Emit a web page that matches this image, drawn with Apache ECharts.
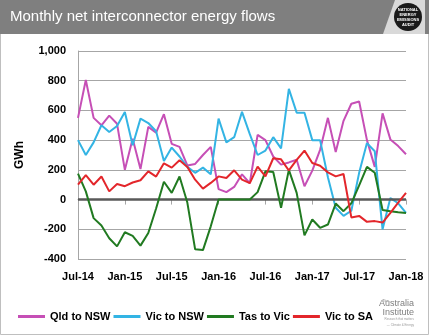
<!DOCTYPE html>
<html>
<head>
<meta charset="utf-8">
<script src="https://cdn.jsdelivr.net/npm/echarts@6/dist/echarts.min.js"></script>
<style>
html,body{margin:0;padding:0;background:#fff;}
#c{width:429px;height:335px;}
</style>
</head>
<body>
<div id="c"></div>
<script>
const categories = ['Jul-14','Aug-14','Sep-14','Oct-14','Nov-14','Dec-14',
  'Jan-15','Feb-15','Mar-15','Apr-15','May-15','Jun-15','Jul-15','Aug-15','Sep-15','Oct-15','Nov-15','Dec-15',
  'Jan-16','Feb-16','Mar-16','Apr-16','May-16','Jun-16','Jul-16','Aug-16','Sep-16','Oct-16','Nov-16','Dec-16',
  'Jan-17','Feb-17','Mar-17','Apr-17','May-17','Jun-17','Jul-17','Aug-17','Sep-17','Oct-17','Nov-17','Dec-17',
  'Jan-18'];

const qldToNsw = [550,805,550,500,565,510,200,410,205,489,450,575,375,355,230,240,300,355,70,50,
  85,170,110,435,400,290,235,250,268,90,195,335,550,320,530,645,660,400,220,580,405,360,305];
const vicToNsw = [400,300,385,500,455,495,590,365,545,515,460,260,350,290,220,180,215,170,545,385,
  420,590,440,300,330,420,345,745,585,585,400,400,150,-55,-110,-75,180,380,325,-200,10,-25,-90];
const tasToVic = [175,55,-125,-175,-260,-315,-220,-245,-310,-225,-60,120,45,155,-20,-335,-340,-180,0,0,
  0,0,0,50,190,185,-55,200,45,-241,-134,-190,-168,-27,-78,-25,95,220,180,-70,-78,-85,-90];
const vicToSa = [100,165,100,155,55,105,90,115,130,190,155,244,215,265,220,134,74,112,156,145,
  197,134,111,222,156,278,271,196,267,330,246,228,183,156,172,-120,-110,-150,-145,-155,-90,-20,45];

const seriesNames = ['Qld to NSW','Vic to NSW','Tas to Vic','Vic to SA'];
const seriesColors = ['#C64FB6','#33B4E4','#217A21','#E3262B'];
const yTicks = {min:-400, max:1000, interval:200};

const font = 'Liberation Sans, Arial, sans-serif';
const chart = echarts.init(document.getElementById('c'), null, {renderer:'canvas'});

const dataSets = [qldToNsw, vicToNsw, tasToVic, vicToSa];
const series = dataSets.map((d,i)=>({
  name: seriesNames[i],
  type:'line',
  data:d,
  symbol:'none',
  z: 3 + i,
  lineStyle:{width:2, color:seriesColors[i]},
  itemStyle:{color:seriesColors[i]}
}));
series.push({
  type:'line', data:[], z:2, silent:true,
  markLine:{silent:true, symbol:'none', label:{show:false},
    lineStyle:{color:'#595959', width:2.5, type:'solid'},
    data:[{yAxis:0}]}
});

chart.setOption({
  animation:false,
  backgroundColor:'#fff',
  grid:{left:78, right:23, top:51, bottom:76, containLabel:false},
  xAxis:{
    type:'category', data:categories, boundaryGap:false,
    axisLine:{show:true, lineStyle:{color:'#a6a6a6', width:1}},
    axisTick:{show:true, interval:5, length:5, lineStyle:{color:'#a6a6a6'}},
    axisLabel:{interval:5, margin:12, color:'#000', fontWeight:'bold', fontSize:11, fontFamily:font},
    splitLine:{show:false}
  },
  yAxis:{
    type:'value', min:yTicks.min, max:yTicks.max, interval:yTicks.interval,
    name:'GWh', nameLocation:'middle', nameGap:52, nameRotate:90,
    nameTextStyle:{color:'#000', fontWeight:'bold', fontSize:12, fontFamily:font},
    axisLine:{show:true, lineStyle:{color:'#a6a6a6', width:1}},
    axisTick:{show:false},
    axisLabel:{margin:12, color:'#000', fontWeight:'bold', fontSize:11, fontFamily:font,
      formatter:v=>v.toLocaleString('en-US')},
    splitLine:{show:true, lineStyle:{color:'#a6a6a6', width:1}}
  },
  legend:{
    data:seriesNames, left:13, top:306, icon:'rect', itemWidth:27, itemHeight:3, itemGap:3,
    textStyle:{color:'#000', fontWeight:'bold', fontSize:11, fontFamily:font}
  },
  graphic:[
    {type:'rect', silent:true, z:0, shape:{x:0.5,y:0.5,width:428,height:334}, style:{fill:'none', stroke:'#bfbfbf', lineWidth:1}},
    {type:'rect', silent:true, shape:{x:0,y:0,width:429,height:34}, style:{fill:'#7f7f7f'}},
    {type:'polygon', silent:true, shape:{points:[[395,0],[425,0],[425,34],[383,34]]}, style:{fill:'#d9d9d9'}},
    {type:'circle', silent:true, shape:{cx:408,cy:17,r:14}, style:{fill:'#1a1a1a'}},
    {type:'text', silent:true, style:{x:408, y:17, text:'NATIONAL\nENERGY\nEMISSIONS\nAUDIT', fill:'#fff',
      font:'bold 4px '+font, align:'center', verticalAlign:'middle', lineHeight:5}},
    {type:'text', silent:true, style:{x:10, y:17, text:'Monthly net interconnector energy flows', fill:'#fff',
      font:'15px '+font, verticalAlign:'middle'}},
    {type:'text', silent:true, style:{x:382, y:301, text:'The', fill:'#7f7f7f',
      font:'4px '+font, verticalAlign:'middle'}},
    {type:'text', silent:true, style:{x:414, y:304, text:'Australia', fill:'#7f7f7f',
      font:'9px '+font, align:'right', verticalAlign:'middle'}},
    {type:'text', silent:true, style:{x:414, y:313, text:'Institute', fill:'#7f7f7f',
      font:'9px '+font, align:'right', verticalAlign:'middle'}},
    {type:'text', silent:true, style:{x:414, y:319.5, text:'Research that matters', fill:'#9a9a9a',
      font:'3px '+font, align:'right', verticalAlign:'middle'}},
    {type:'text', silent:true, style:{x:414, y:325, text:'— Climate & Energy', fill:'#9a9a9a',
      font:'3px '+font, align:'right', verticalAlign:'middle'}}
  ],
  series:series
});
</script>
</body>
</html>
